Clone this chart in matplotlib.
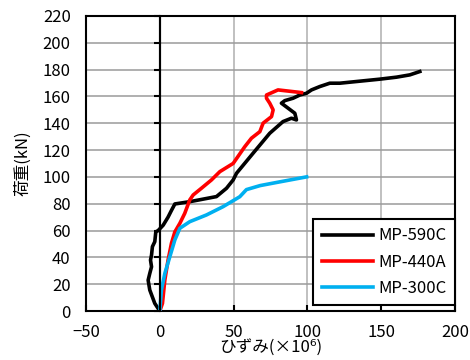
import matplotlib
matplotlib.use("Agg")
import matplotlib.pyplot as plt

plt.rcParams['font.family'] = ['Noto Sans CJK JP', 'DejaVu Sans']

# MP-590C (strain x1e-6, load kN)
x590 = [0, -3.4, -6.8, -7.9, -6.8, -5.6, -6.3, -5.6, -5.0, -3.4, -2.7, -1.1, 2.3, 5.6, 7.9, 10.2,
        20.3, 38.4, 45.2, 49.7, 52.0, 63.2, 74.5, 83.5, 89.2, 92.6, 91.5, 86.9, 82.4, 84.7, 90.3,
        94.9, 99.4, 102.8, 108.4, 115.2, 122.0, 149.0, 160.4, 169.4, 176.2]
y590 = [0, 5.7, 15.7, 23.0, 28.0, 33.0, 38.0, 41.8, 48.0, 51.7, 59.0, 60.0, 64.0, 70.0, 75.0, 79.8,
        81.5, 85.3, 91.5, 97.7, 102.7, 117.6, 132.5, 141.2, 143.7, 142.4, 147.4, 151.2, 154.9, 156.8, 158.6,
        161.0, 162.3, 164.8, 167.3, 169.8, 169.8, 172.8, 174.3, 176.0, 178.5]

# MP-440A
x440 = [0, 1.8, 3.4, 5.6, 7.9, 10.2, 13.6, 16.9, 20.3, 22.6, 28.2, 35.0, 40.7, 49.7, 57.6, 62.1,
        67.8, 70.0, 75.7, 76.8, 74.5, 72.3, 72.3, 80.1, 96.0]
y440 = [0, 5.7, 23.0, 38.0, 50.5, 59.0, 65.4, 72.8, 82.8, 86.5, 91.5, 97.7, 103.9, 110.0, 122.5, 128.8,
        133.7, 140.0, 144.9, 149.9, 154.9, 158.6, 161.0, 164.8, 162.8]

# MP-300C
x300 = [0, 1.1, 3.4, 6.8, 10.2, 13.6, 20.3, 31.6, 42.9, 54.2, 58.7, 68.0, 80.0, 99.5]
y300 = [0, 15.7, 28.0, 40.5, 53.0, 61.7, 66.6, 71.6, 77.8, 85.2, 90.5, 93.5, 96.0, 100.0]

labels = ['MP-590C', 'MP-440A', 'MP-300C']
colors = ['#000000', '#FF0000', '#00B0F0']

xticks = [-50, 0, 50, 100, 150, 200]
yticks = list(range(0, 221, 20))

fig = plt.figure(figsize=(4.7, 3.6), dpi=100)
ax = fig.add_axes([0.183, 0.136, 0.785, 0.820])

ax.set_xlim(-50, 200)
ax.set_ylim(0, 220)
ax.set_xticks(xticks)
ax.set_yticks(yticks)
ax.grid(True, axis='x', color='#C0C0C0', linewidth=1.4)
ax.grid(True, axis='y', color='#9A9A9A', linewidth=1.1)
ax.set_axisbelow(True)

for sp in ax.spines.values():
    sp.set_linewidth(1.5)
    sp.set_color('black')

ax.tick_params(axis='y', length=0, pad=11, labelsize=12)
ax.tick_params(axis='x', direction='in', length=4, width=1.5, pad=9, labelsize=12)

# vertical axis line at x=0 with its ticks
ax.axvline(0, color='black', linewidth=1.5, zorder=1.5)
ax2 = ax.twinx()
ax2.set_ylim(0, 220)
ax2.set_yticks(yticks)
for name, sp in ax2.spines.items():
    sp.set_visible(name == 'right')
ax2.spines['right'].set_position(('data', 0))
ax2.spines['right'].set_linewidth(1.5)
ax2.tick_params(axis='y', direction='in', length=4, width=1.5, labelright=False)

for xs, ys, lab, c in zip([x590, x440, x300], [y590, y440, y300], labels, colors):
    ax.plot(xs, ys, color=c, linewidth=2.6, label=lab, solid_joinstyle='round', zorder=3)

leg = ax.legend(loc='lower right', bbox_to_anchor=(1.0, 0.02), fontsize=12, frameon=True,
                fancybox=False, edgecolor='black', framealpha=1, borderaxespad=0,
                handlelength=3.1, handletextpad=0.3, labelspacing=0.55, borderpad=0.5)
leg.get_frame().set_linewidth(1.5)
leg.set_zorder(5)

ax.set_xlabel('ひずみ(×10⁶)', fontsize=12, labelpad=-1)
ax.set_ylabel('荷重(kN)', fontsize=12, labelpad=8)

fig.savefig('out.png', dpi=100)
